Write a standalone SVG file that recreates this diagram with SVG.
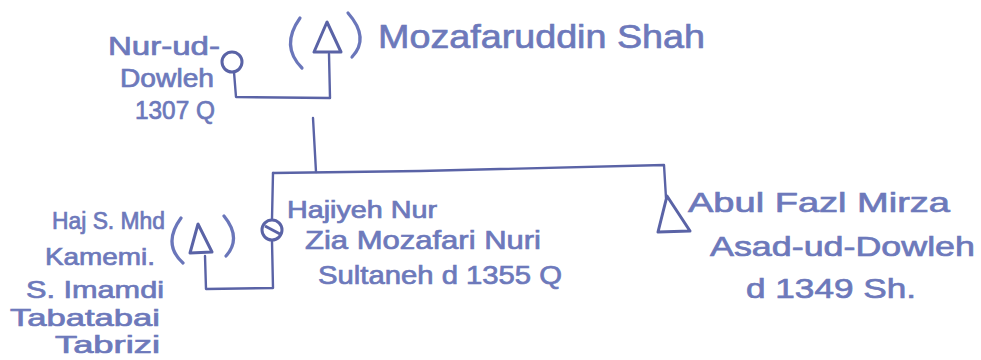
<svg xmlns="http://www.w3.org/2000/svg" width="981" height="360" viewBox="0 0 981 360">
  <style>
    .ln { fill: none; stroke: #5a63a6; stroke-width: 2.4; stroke-linecap: round; stroke-linejoin: round; }
    .sym { fill: none; stroke: #5a63a6; stroke-width: 3; stroke-linejoin: round; }
    .par { fill: none; stroke: #6a76ba; stroke-width: 3.2; stroke-linecap: round; }
    .lbl { font-family: "Liberation Sans", Arial, sans-serif; fill: #6d79bb; stroke: #6d79bb; stroke-width: 0.7; }
  </style>
  <rect width="981" height="360" fill="#ffffff"/>

  <!-- connectors -->
  <g id="connectors">
    <!-- marriage line: Nur-ud-Dowleh to Mozafaruddin Shah -->
    <path class="ln" d="M234 72 L236 97 L330 98 L329 54"/>
    <!-- descent line -->
    <path class="ln" d="M313 118 L316 172"/>
    <!-- sibship line -->
    <path class="ln" d="M273 173 L420 171 L664 165 L666 198"/>
    <!-- Hajiyeh down to her marriage with Haj S. Mhd -->
    <path class="ln" d="M273 173 L272 219"/>
    <path class="ln" d="M272 241 L273 288 L206 289 L205 256"/>
  </g>

  <!-- Mozafaruddin Shah -->
  <g id="mozafaruddin-shah">
    <path class="sym" d="M327 22 L314 52 L341 52 Z"/>
    <path class="par" d="M300 18 Q280 46 302 68"/>
    <path class="par" d="M348 13 Q370 38 352 57"/>
    <text class="lbl" x="378" y="48" font-size="34" textLength="327" lengthAdjust="spacingAndGlyphs">Mozafaruddin Shah</text>
  </g>

  <!-- Nur-ud-Dowleh -->
  <g id="nur-ud-dowleh">
    <circle class="sym" cx="232" cy="62" r="10"/>
    <text class="lbl" x="108" y="55" font-size="25" textLength="112" lengthAdjust="spacingAndGlyphs">Nur-ud-</text>
    <text class="lbl" x="120" y="87" font-size="25" textLength="94" lengthAdjust="spacingAndGlyphs">Dowleh</text>
    <text class="lbl" x="135" y="119" font-size="25" textLength="80" lengthAdjust="spacingAndGlyphs">1307 Q</text>
  </g>

  <!-- Hajiyeh Nur Zia Mozafari Nuri Sultaneh -->
  <g id="hajiyeh-nur">
    <circle class="sym" cx="272" cy="230" r="10"/>
    <path class="sym" d="M265 226 L280 234"/>
    <text class="lbl" x="287" y="218" font-size="23" textLength="150" lengthAdjust="spacingAndGlyphs">Hajiyeh Nur</text>
    <text class="lbl" x="305" y="249" font-size="25" textLength="236" lengthAdjust="spacingAndGlyphs">Zia Mozafari Nuri</text>
    <text class="lbl" x="318" y="284" font-size="25" textLength="244" lengthAdjust="spacingAndGlyphs">Sultaneh d 1355 Q</text>
  </g>

  <!-- Haj S. Mhd Kamemi -->
  <g id="haj-s-mhd">
    <path class="sym" d="M198 224 L190 253 L212 252 Z"/>
    <path class="par" d="M181 218 Q162 244 183 263"/>
    <path class="par" d="M224 216 Q242 238 226 256"/>
    <text class="lbl" x="52" y="229" font-size="23" textLength="113" lengthAdjust="spacingAndGlyphs">Haj S. Mhd</text>
    <text class="lbl" x="45" y="265" font-size="24" textLength="110" lengthAdjust="spacingAndGlyphs">Kamemi.</text>
    <text class="lbl" x="26" y="298" font-size="24" textLength="138" lengthAdjust="spacingAndGlyphs">S. Imamdi</text>
    <text class="lbl" x="10" y="326" font-size="24" textLength="150" lengthAdjust="spacingAndGlyphs">Tabatabai</text>
    <text class="lbl" x="55" y="353" font-size="23" textLength="105" lengthAdjust="spacingAndGlyphs">Tabrizi</text>
  </g>

  <!-- Abul Fazl Mirza Asad-ud-Dowleh -->
  <g id="abul-fazl-mirza">
    <path class="sym" d="M667 196 L658 232 L690 231 Z"/>
    <text class="lbl" x="688" y="212" font-size="28" textLength="262" lengthAdjust="spacingAndGlyphs">Abul Fazl Mirza</text>
    <text class="lbl" x="710" y="256" font-size="28" textLength="265" lengthAdjust="spacingAndGlyphs">Asad-ud-Dowleh</text>
    <text class="lbl" x="746" y="298" font-size="28" textLength="170" lengthAdjust="spacingAndGlyphs">d 1349 Sh.</text>
  </g>
</svg>
